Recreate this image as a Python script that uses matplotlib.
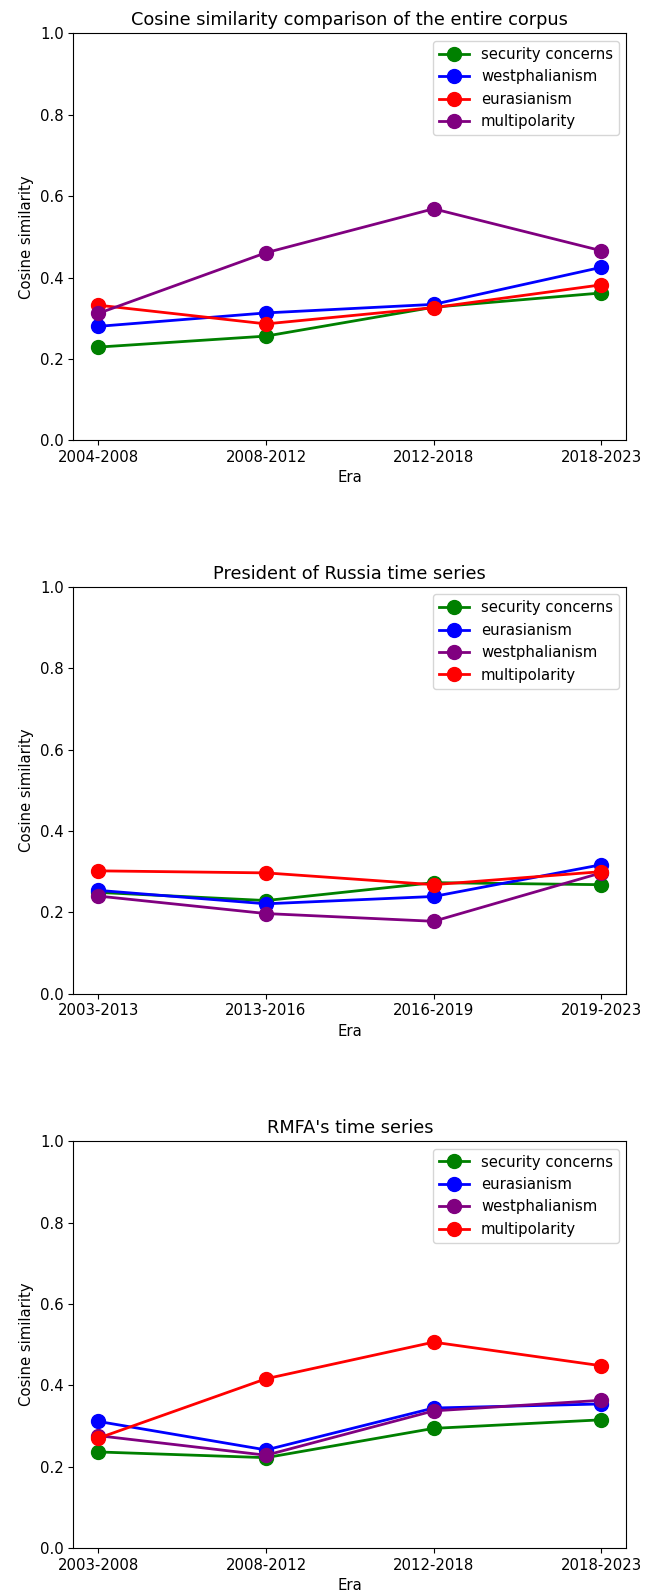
import matplotlib
matplotlib.use("Agg")
import matplotlib.pyplot as plt

# entire corpus
corpus_eras = ["2004-2008", "2008-2012", "2012-2018", "2018-2023"]
corpus_security = [0.229, 0.256, 0.327, 0.362]
corpus_westphalianism = [0.280, 0.313, 0.334, 0.425]
corpus_eurasianism = [0.332, 0.286, 0.326, 0.382]
corpus_multipolarity = [0.312, 0.461, 0.569, 0.466]

# President of Russia
pres_eras = ["2003-2013", "2013-2016", "2016-2019", "2019-2023"]
pres_security = [0.249, 0.229, 0.273, 0.268]
pres_eurasianism = [0.254, 0.221, 0.239, 0.317]
pres_westphalianism = [0.240, 0.197, 0.178, 0.297]
pres_multipolarity = [0.302, 0.297, 0.268, 0.300]

# RMFA
rmfa_eras = ["2003-2008", "2008-2012", "2012-2018", "2018-2023"]
rmfa_security = [0.236, 0.222, 0.294, 0.315]
rmfa_eurasianism = [0.311, 0.241, 0.344, 0.354]
rmfa_westphalianism = [0.276, 0.228, 0.337, 0.363]
rmfa_multipolarity = [0.270, 0.416, 0.506, 0.448]

FS = 10.7

def plot_panel(ax, title, eras, series):
    for label, values, color in series:
        ax.plot(eras, values, marker="o", markersize=10, linewidth=2,
                color=color, label=label)
    ax.set_ylim(0, 1.0)
    ax.set_title(title, fontsize=12.8)
    ax.set_xlabel("Era", fontsize=FS)
    ax.set_ylabel("Cosine similarity", fontsize=FS)
    ax.tick_params(labelsize=FS)
    ax.legend(loc="upper right", fontsize=FS)

fig = plt.figure(figsize=(6.49, 15.95), dpi=100)
left, width = 0.113, 0.852
ax1 = fig.add_axes([left, 0.724, width, 0.255])
ax2 = fig.add_axes([left, 0.377, width, 0.255])
ax3 = fig.add_axes([left, 0.0295, width, 0.255])

plot_panel(ax1, "Cosine similarity comparison of the entire corpus", corpus_eras, [
    ("security concerns", corpus_security, "green"),
    ("westphalianism", corpus_westphalianism, "blue"),
    ("eurasianism", corpus_eurasianism, "red"),
    ("multipolarity", corpus_multipolarity, "purple"),
])
plot_panel(ax2, "President of Russia time series", pres_eras, [
    ("security concerns", pres_security, "green"),
    ("eurasianism", pres_eurasianism, "blue"),
    ("westphalianism", pres_westphalianism, "purple"),
    ("multipolarity", pres_multipolarity, "red"),
])
plot_panel(ax3, "RMFA's time series", rmfa_eras, [
    ("security concerns", rmfa_security, "green"),
    ("eurasianism", rmfa_eurasianism, "blue"),
    ("westphalianism", rmfa_westphalianism, "purple"),
    ("multipolarity", rmfa_multipolarity, "red"),
])

fig.savefig("out.png", dpi=100)
